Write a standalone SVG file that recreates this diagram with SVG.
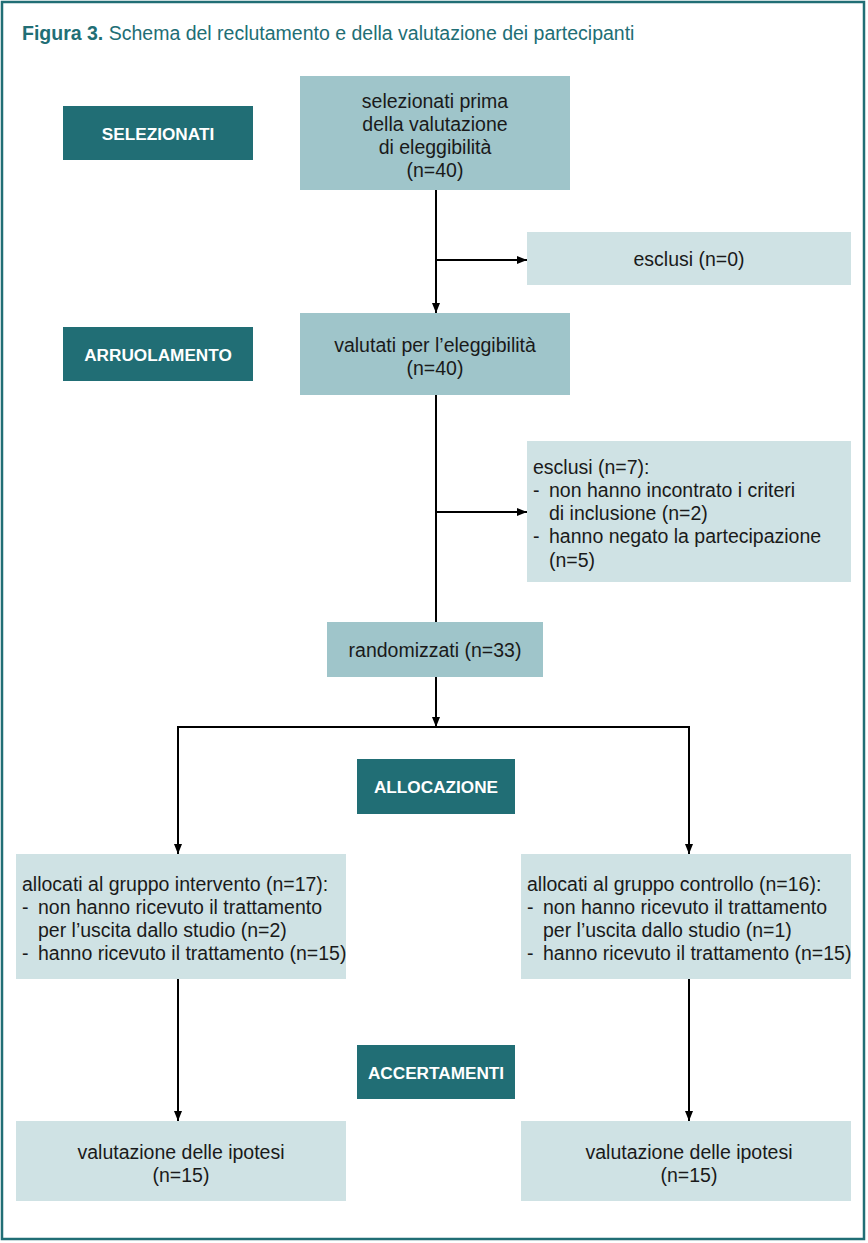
<svg xmlns="http://www.w3.org/2000/svg" width="868" height="1243" viewBox="0 0 868 1243">
<defs>
<marker id="ah" viewBox="0 0 10 10" refX="10" refY="5" markerWidth="10" markerHeight="10" markerUnits="userSpaceOnUse" orient="auto">
<path d="M0,1 L10,5 L0,9 Z" fill="#000"/>
</marker>
<style>
.lab rect{fill:#216e75}
.lab text{fill:#fff;font-family:"Liberation Sans",Arial,sans-serif;font-weight:bold;font-size:17.2px;text-anchor:middle}
.mid rect{fill:#9fc5ca}
.lt rect{fill:#cfe2e4}
.t{font-family:"Liberation Sans",Arial,sans-serif;font-size:19.5px;fill:#1a1a1a}
.c{text-anchor:middle}
.con path{fill:none;stroke:#000;stroke-width:2}
</style>
</defs>
<rect x="2" y="2" width="862" height="1237" fill="#fff" stroke="#216e75" stroke-width="2.5"/>
<text x="22" y="40" font-family="Liberation Sans,Arial,sans-serif" font-size="19.5" fill="#216e75"><tspan font-weight="bold">Figura 3.</tspan> Schema del reclutamento e della valutazione dei partecipanti</text>

<g id="lab-selezionati" class="lab"><rect x="63" y="106" width="190" height="54"/><text x="158" y="140">SELEZIONATI</text></g>
<g id="lab-arruolamento" class="lab"><rect x="63" y="327" width="190" height="54"/><text x="158" y="361">ARRUOLAMENTO</text></g>
<g id="lab-allocazione" class="lab"><rect x="357" y="759" width="158" height="55"/><text x="436" y="793">ALLOCAZIONE</text></g>
<g id="lab-accertamenti" class="lab"><rect x="357" y="1045" width="158" height="54"/><text x="436" y="1079">ACCERTAMENTI</text></g>

<g id="n-selezionati" class="mid"><rect x="300" y="76" width="270" height="114"/>
<text class="t c" x="435" y="108">selezionati prima</text>
<text class="t c" x="435" y="131">della valutazione</text>
<text class="t c" x="435" y="154">di eleggibilità</text>
<text class="t c" x="435" y="177">(n=40)</text></g>

<g id="n-esclusi0" class="lt"><rect x="527" y="232" width="324" height="53"/>
<text class="t c" x="689" y="266">esclusi (n=0)</text></g>

<g id="n-valutati" class="mid"><rect x="300" y="313" width="270" height="82"/>
<text class="t c" x="435" y="352">valutati per l’eleggibilità</text>
<text class="t c" x="435" y="375">(n=40)</text></g>

<g id="n-esclusi7" class="lt"><rect x="527" y="441" width="324" height="141"/>
<text class="t" x="533" y="474">esclusi (n=7):</text>
<text class="t" x="533" y="497">-</text><text class="t" x="549" y="497">non hanno incontrato i criteri</text>
<text class="t" x="549" y="520">di inclusione (n=2)</text>
<text class="t" x="533" y="543">-</text><text class="t" x="549" y="543">hanno negato la partecipazione</text>
<text class="t" x="549" y="567">(n=5)</text></g>

<g id="n-random" class="mid"><rect x="327" y="622" width="216" height="55"/>
<text class="t c" x="435" y="657">randomizzati (n=33)</text></g>

<g id="n-intervento" class="lt"><rect x="16" y="854" width="330" height="125"/>
<text class="t" x="22" y="891">allocati al gruppo intervento (n=17):</text>
<text class="t" x="22" y="914">-</text><text class="t" x="38" y="914">non hanno ricevuto il trattamento</text>
<text class="t" x="38" y="937">per l’uscita dallo studio (n=2)</text>
<text class="t" x="22" y="960">-</text><text class="t" x="38" y="960">hanno ricevuto il trattamento (n=15)</text></g>

<g id="n-controllo" class="lt"><rect x="521" y="854" width="330" height="125"/>
<text class="t" x="527" y="891">allocati al gruppo controllo (n=16):</text>
<text class="t" x="527" y="914">-</text><text class="t" x="543" y="914">non hanno ricevuto il trattamento</text>
<text class="t" x="543" y="937">per l’uscita dallo studio (n=1)</text>
<text class="t" x="527" y="960">-</text><text class="t" x="543" y="960">hanno ricevuto il trattamento (n=15)</text></g>

<g id="n-valut-left" class="lt"><rect x="16" y="1121" width="330" height="80"/>
<text class="t c" x="181" y="1159">valutazione delle ipotesi</text>
<text class="t c" x="181" y="1182">(n=15)</text></g>

<g id="n-valut-right" class="lt"><rect x="521" y="1121" width="330" height="80"/>
<text class="t c" x="689" y="1159">valutazione delle ipotesi</text>
<text class="t c" x="689" y="1182">(n=15)</text></g>

<g id="connectors" class="con">
<path d="M436,190 V313" marker-end="url(#ah)"/>
<path d="M436,260 H527" marker-end="url(#ah)"/>
<path d="M436,395 V622"/>
<path d="M436,512 H527" marker-end="url(#ah)"/>
<path d="M436,677 V727" marker-end="url(#ah)"/>
<path d="M178,727 H689"/>
<path d="M178,726 V854" marker-end="url(#ah)"/>
<path d="M689,726 V854" marker-end="url(#ah)"/>
<path d="M178,979 V1121" marker-end="url(#ah)"/>
<path d="M689,979 V1121" marker-end="url(#ah)"/>
</g>
</svg>
